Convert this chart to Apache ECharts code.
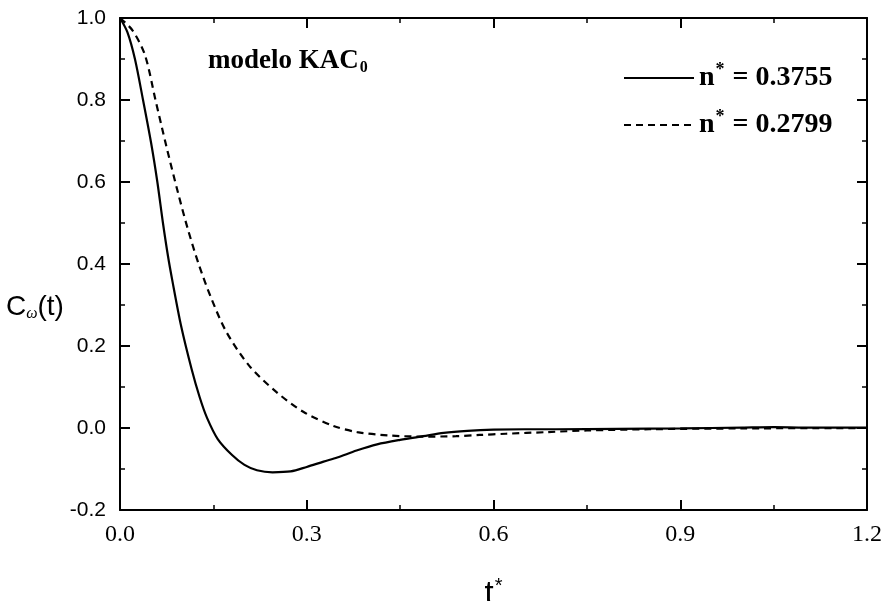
<!DOCTYPE html>
<html>
<head>
<meta charset="utf-8">
<script src="https://cdn.jsdelivr.net/npm/echarts@6/dist/echarts.min.js"></script>
<style>
  html, body { margin: 0; padding: 0; background: #fff; }
  #chart { width: 884px; height: 601px; }
</style>
</head>
<body>
<div id="chart"></div>
<script>
// n* = 0.3755 (solid)
const solidT = [0, 0.012, 0.024, 0.037, 0.05, 0.06, 0.069, 0.077, 0.084, 0.098, 0.115, 0.128, 0.14, 0.157, 0.18, 0.2, 0.22, 0.245, 0.274, 0.3, 0.327, 0.349, 0.38, 0.413, 0.45, 0.487, 0.52, 0.558, 0.6, 0.65, 0.7, 0.8, 0.9, 1.0, 1.05, 1.1, 1.2]
const solidC = [1.0, 0.965, 0.9, 0.8, 0.695, 0.6, 0.5, 0.42, 0.36, 0.25, 0.144, 0.075, 0.024, -0.027, -0.066, -0.09, -0.103, -0.108, -0.106, -0.095, -0.082, -0.072, -0.055, -0.04, -0.029, -0.02, -0.012, -0.007, -0.004, -0.003, -0.003, -0.002, -0.001, 0.001, 0.002, 0.001, 0.001]

// n* = 0.2799 (dashed)
const dashT = [0, 0.02, 0.04, 0.057, 0.074, 0.093, 0.109, 0.127, 0.147, 0.171, 0.208, 0.251, 0.295, 0.343, 0.381, 0.43, 0.487, 0.54, 0.578, 0.62, 0.686, 0.75, 0.85, 1.0, 1.2]
const dashC = [1.0, 0.97, 0.91, 0.8, 0.69, 0.575, 0.485, 0.397, 0.315, 0.234, 0.151, 0.088, 0.039, 0.005, -0.01, -0.018, -0.021, -0.02, -0.017, -0.014, -0.01, -0.006, -0.003, -0.001, 0.0]

const xTicks = [0.0, 0.3, 0.6, 0.9, 1.2]
const yTicks = [-0.2, 0.0, 0.2, 0.4, 0.6, 0.8, 1.0]
const seriesNames = ['n* = 0.3755', 'n* = 0.2799']

const zip = (xs, ys) => xs.map((x, i) => [x, ys[i]])

const serif = '"Liberation Serif", "DejaVu Serif", serif'
const sans = '"Liberation Sans", Arial, sans-serif'

const axisCommon = {
  axisLine: { onZero: false, lineStyle: { color: '#000', width: 2 } },
  axisTick: { inside: true, length: 10, lineStyle: { color: '#000', width: 2 } },
  minorTick: { show: true, splitNumber: 2, length: 5, lineStyle: { color: '#000', width: 1.5 } },
  splitLine: { show: false }
}

const chart = echarts.init(document.getElementById('chart'))

chart.setOption({
  backgroundColor: '#fff',
  animation: false,
  grid: { left: 120, right: 17, top: 18, bottom: 91, outerBoundsMode: 'none' },
  legend: {
    orient: 'vertical',
    left: 618,
    top: 56,
    itemWidth: 70,
    itemHeight: 14,
    itemGap: 16,
    data: seriesNames,
    itemStyle: { opacity: 0, borderWidth: 0 },
    formatter: (name) => name === seriesNames[0]
      ? '{n|n}{s|*}{n| = 0.3755}'
      : '{n|n}{s|*}{n| = 0.2799}',
    textStyle: {
      rich: {
        n: { fontFamily: serif, fontSize: 28, fontWeight: 'bold', color: '#000', lineHeight: 34 },
        s: { fontFamily: serif, fontSize: 18, fontWeight: 'bold', color: '#000', verticalAlign: 'top', padding: [0, 1, 14, 1] }
      }
    }
  },
  graphic: [
    {
      type: 'text',
      left: 208,
      top: 48,
      style: {
        text: '{m|modelo KAC}{sub|0}',
        rich: {
          m: { fontFamily: serif, fontSize: 27, fontWeight: 'bold', fill: '#000' },
          sub: { fontFamily: serif, fontSize: 16, fontWeight: 'bold', fill: '#000', padding: [12, 0, 0, 1] }
        }
      }
    }
  ],
  xAxis: [
    {
      type: 'value',
      min: 0,
      max: 1.2,
      interval: 0.3,
      position: 'bottom',
      ...axisCommon,
      axisLabel: {
        margin: 13,
        fontFamily: serif,
        fontSize: 24,
        color: '#000',
        formatter: (v) => xTicks.includes(+v.toFixed(1)) ? v.toFixed(1) : ''
      },
      name: '{t|t}{s|*}',
      nameLocation: 'middle',
      nameGap: 66,
      nameTextStyle: {
        rich: {
          t: { fontFamily: sans, fontSize: 33, color: '#000' },
          s: { fontFamily: sans, fontSize: 20, color: '#000', verticalAlign: 'top', padding: [0, 0, 18, 1] }
        }
      }
    },
    {
      type: 'value',
      min: 0,
      max: 1.2,
      interval: 0.3,
      position: 'top',
      ...axisCommon,
      axisLabel: { show: false }
    }
  ],
  yAxis: [
    {
      type: 'value',
      min: -0.2,
      max: 1.0,
      interval: 0.2,
      position: 'left',
      ...axisCommon,
      axisLabel: {
        margin: 14,
        fontFamily: sans,
        fontSize: 21,
        color: '#000',
        formatter: (v) => yTicks.includes(+v.toFixed(1)) ? v.toFixed(1) : ''
      },
      name: '{c|C}{w|ω}{c|(t)}',
      nameLocation: 'middle',
      nameRotate: 0,
      nameGap: 58,
      nameTextStyle: {
        align: 'center',
        padding: [86, 0, 0, 0],
        rich: {
          c: { fontFamily: sans, fontSize: 28, color: '#000' },
          w: { fontFamily: serif, fontSize: 16, fontStyle: 'italic', color: '#000', padding: [14, 0, 0, 0] }
        }
      }
    },
    {
      type: 'value',
      min: -0.2,
      max: 1.0,
      interval: 0.2,
      position: 'right',
      ...axisCommon,
      axisLabel: { show: false }
    }
  ],
  series: [
    {
      name: seriesNames[0],
      type: 'line',
      data: zip(solidT, solidC),
      smooth: 0.3,
      showSymbol: false,
      symbol: 'none',
      lineStyle: { color: '#000', width: 2.2, type: 'solid' },
      itemStyle: { color: '#000' }
    },
    {
      name: seriesNames[1],
      type: 'line',
      data: zip(dashT, dashC),
      smooth: 0.3,
      showSymbol: false,
      symbol: 'none',
      lineStyle: { color: '#000', width: 2.2, type: [7, 5] },
      itemStyle: { color: '#000' }
    }
  ]
})
</script>
</body>
</html>
